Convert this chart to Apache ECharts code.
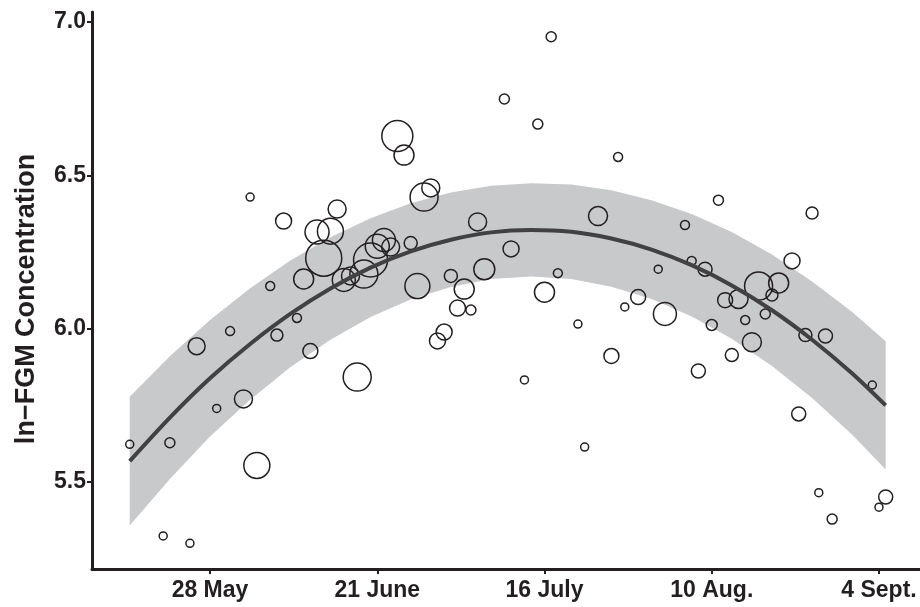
<!DOCTYPE html>
<html>
<head>
<meta charset="utf-8">
<script src="https://cdn.jsdelivr.net/npm/echarts@6/dist/echarts.min.js"></script>
<style>
html, body { margin: 0; padding: 0; background: #fff; }
#chart { width: 920px; height: 607px; }
</style>
</head>
<body>
<div id="chart"></div>
<script>
// days counted from 28 May
var tickDays = [0, 25, 50, 75, 100];
var tickLabels = ['28 May', '21 June', '16 July', '10 Aug.', '4 Sept.'];
var yTicks = [5.5, 6.0, 6.5, 7.0];

// observations: day, ln-FGM, weight (bubble)
var obsDay = [-12, -7, -6, -3, -2, 1, 3, 5, 6, 7, 9, 10, 11, 13, 14, 15, 16, 17, 18, 19,
	20, 21, 22, 23, 24, 25, 26, 27, 28, 29, 30, 31, 32, 33, 34, 35, 36, 37, 38, 39,
	40, 41, 44, 45, 47, 49, 50, 51, 52, 55, 56, 58, 60, 61, 62, 64, 67, 68, 71, 72,
	73, 74, 75, 76, 77, 78, 79, 80, 81, 82, 83, 84, 85, 87, 88, 89, 90, 91, 92, 93,
	99, 100, 101];
var obsValue = [5.623, 5.324, 5.628, 5.300, 5.943, 5.740, 5.992, 5.771, 6.429, 5.554,
	6.139, 5.979, 6.351, 6.035, 6.162, 5.927, 6.315, 6.230, 6.318, 6.390,
	6.159, 6.172, 5.842, 6.178, 6.224, 6.269, 6.289, 6.266, 6.628, 6.566,
	6.279, 6.139, 6.429, 6.459, 5.960, 5.989, 6.172, 6.067, 6.129, 6.061,
	6.348, 6.194, 6.749, 6.260, 5.833, 6.667, 6.119, 6.952, 6.181, 6.015,
	5.614, 6.367, 5.911, 6.560, 6.071, 6.103, 6.194, 6.048, 6.338, 6.221,
	5.862, 6.194, 6.012, 6.419, 6.093, 5.914, 6.097, 6.028, 5.956, 6.139,
	6.048, 6.110, 6.149, 6.221, 5.722, 5.979, 6.377, 5.465, 5.976, 5.379,
	5.816, 5.418, 5.451];
var obsWeight = [4, 4, 5, 4, 8.5, 4, 4.5, 9, 4, 13,
	4.5, 6, 8, 4.5, 10, 7.5, 12, 18, 13, 9,
	11.5, 9, 14, 14, 17, 12, 11.5, 9, 15.5, 10,
	6.5, 12.5, 14, 9, 8, 8, 6.5, 8, 10, 5,
	9, 10.5, 5, 8, 4, 5, 10, 5, 4.5, 4,
	4, 9.5, 7.5, 4.5, 4, 7.5, 4, 11.5, 4.5, 4.5,
	7, 7, 5.5, 5, 7.5, 6.5, 9.5, 4.5, 9.5, 14,
	5, 6, 10, 8, 7, 6.5, 6, 4, 7, 5,
	4, 4, 7];

// fitted curve and confidence band
var fitDay = [-12, -6, 0, 6, 12, 18, 24, 30, 36, 42, 48, 54, 60, 66, 72, 78, 84, 90, 96, 101];
var fitValue = [5.568, 5.710, 5.838, 5.950, 6.048, 6.131, 6.199, 6.252, 6.290, 6.314,
	6.322, 6.316, 6.294, 6.258, 6.207, 6.141, 6.060, 5.964, 5.854, 5.750];
var bandLow = [5.358, 5.510, 5.648, 5.768, 5.874, 5.964, 6.038, 6.095, 6.136, 6.162,
	6.170, 6.162, 6.137, 6.097, 6.040, 5.967, 5.878, 5.774, 5.654, 5.541];
var bandHigh = [5.778, 5.910, 6.028, 6.132, 6.222, 6.298, 6.360, 6.409, 6.444, 6.466,
	6.474, 6.470, 6.451, 6.419, 6.374, 6.315, 6.242, 6.154, 6.054, 5.959];

var ink = '#231f20';
var font = '"Liberation Sans", Arial, sans-serif';

var points = [], fit = [], band = [];
for (var i = 0; i < obsDay.length; i++) {
	points.push([obsDay[i], obsValue[i], obsWeight[i]]);
}
for (var j = 0; j < fitDay.length; j++) {
	fit.push([fitDay[j], fitValue[j]]);
	band.push([fitDay[j], bandLow[j], bandHigh[j]]);
}

var chart = echarts.init(document.getElementById('chart'));
var option = {
	animation: false,
	backgroundColor: '#fff',
	grid: {
		left: 92,
		right: 0,
		top: 12,
		bottom: 38,
		containLabel: false,
		outerBoundsMode: 'none'
	},
	xAxis: {
		type: 'value',
		min: -17.64,
		max: 106.13,
		splitLine: { show: false },
		axisLine: { onZero: false, lineStyle: { color: ink, width: 3 } },
		axisTick: { customValues: tickDays, length: 5, lineStyle: { color: ink, width: 2 } },
		axisLabel: {
			customValues: tickDays,
			margin: 10,
			color: ink,
			fontFamily: font,
			fontWeight: 'bold',
			fontSize: 23,
			formatter: function (v) {
				var k = tickDays.indexOf(Math.round(v));
				return k >= 0 ? tickLabels[k] : '';
			}
		}
	},
	yAxis: {
		type: 'value',
		min: 5.2163,
		max: 7.0326,
		name: 'ln\u2212FGM Concentration',
		nameLocation: 'middle',
		nameGap: 52,
		nameTextStyle: {
			color: ink,
			fontFamily: font,
			fontWeight: 'bold',
			fontSize: 27,
			padding: [0, 17, 0, 0]
		},
		splitLine: { show: false },
		axisLine: { show: true, onZero: false, lineStyle: { color: ink, width: 3 } },
		axisTick: { show: true, customValues: yTicks, length: 5, lineStyle: { color: ink, width: 2 } },
		axisLabel: {
			customValues: yTicks,
			margin: 6,
			color: ink,
			fontFamily: font,
			fontWeight: 'bold',
			fontSize: 23,
			formatter: function (v) {
				return v.toFixed(1);
			}
		}
	},
	series: [{
		// confidence band as one polygon: upper edge out, lower edge back
		name: 'band',
		type: 'custom',
		silent: true,
		data: band,
		encode: { x: 0, y: [1, 2] },
		renderItem: function (params, api) {
			if (params.dataIndex !== 0) {
				return null;
			}
			var pts = [];
			for (var a = 0; a < band.length; a++) {
				pts.push(api.coord([band[a][0], band[a][2]]));
			}
			for (var b = band.length - 1; b >= 0; b--) {
				pts.push(api.coord([band[b][0], band[b][1]]));
			}
			return {
				type: 'polygon',
				shape: { points: pts },
				style: { fill: '#c8c9cb', stroke: null }
			};
		}
	}, {
		name: 'fit',
		type: 'line',
		data: fit,
		smooth: 0.3,
		symbol: 'none',
		lineStyle: { color: '#414042', width: 4 }
	}, {
		name: 'obs',
		type: 'scatter',
		data: points,
		symbol: 'circle',
		symbolSize: function (val) {
			return val[2] * 2;
		},
		itemStyle: {
			color: 'rgba(0,0,0,0)',
			borderColor: ink,
			borderWidth: 1.5,
			opacity: 1
		}
	}]
};

chart.setOption(option);
</script>
</body>
</html>
